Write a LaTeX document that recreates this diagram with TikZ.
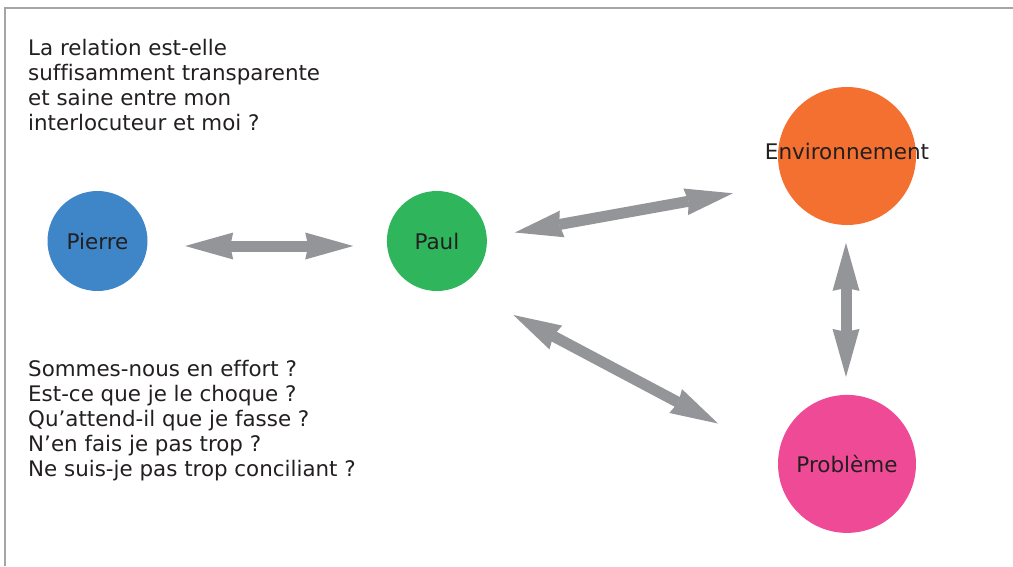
\documentclass[tikz,border=0pt]{standalone}
\usepackage{fontspec}
\setmainfont[Ligatures=NoCommon]{DejaVu Sans}
\usepackage{xcolor}
\usetikzlibrary{arrows.meta, positioning}

\definecolor{pierreblue}{RGB}{63,134,200}
\definecolor{paulgreen}{RGB}{47,182,92}
\definecolor{envorange}{RGB}{243,112,48}
\definecolor{probpink}{RGB}{239,74,150}
\definecolor{arrowgray}{RGB}{147,149,152}
\definecolor{framegray}{RGB}{165,165,165}
\definecolor{textdark}{RGB}{35,31,32}

\begin{document}
\begin{tikzpicture}[
        x=1pt, y=-1pt,
        person/.style={circle, minimum size=100pt, inner sep=0pt, text=textdark, font=\fontsize{21.5}{25}\selectfont},
        topic/.style={circle, minimum size=138pt, inner sep=0pt, text=textdark, font=\fontsize{21.5}{25}\selectfont},
        txt/.style={anchor=north west, align=left, inner sep=0pt, text=textdark, font=\fontsize{21.4}{25}\selectfont},
        link/.style={draw=arrowgray, line width=11pt, {Stealth[length=48pt, width=27pt, inset=3pt, line width=0pt]}-{Stealth[length=48pt, width=27pt, inset=3pt, line width=0pt]}}
    ]
    \useasboundingbox (0,0) rectangle (1013,566);

    % Frame
    \draw[framegray, line width=1.5pt] (1013,8) -- (5,8) -- (5,566);

    % Persons
    \node[person, fill=pierreblue] (pierre) at (97.5,241) {Pierre};
    \node[person, fill=paulgreen, right=239pt of pierre] (paul) {Paul};

    % Topics
    \node[topic, fill=envorange, label={[text=textdark, font=\fontsize{21.5}{25}\selectfont, yshift=5pt]center:Environnement}] (env) at (847,156) {};
    \node[topic, fill=probpink, below=169.5pt of env] (prob) {Problème};

    % Questions
    \node[txt] (relation) at (28,39) {La relation est-elle\\suffisamment transparente\\et saine entre mon\\interlocuteur et moi ?};
    \node[txt] (effort) at (28,360) {Sommes-nous en effort ?\\Est-ce que je le choque ?\\Qu’attend-il que je fasse ?\\N’en fais je pas trop ?\\Ne suis-je pas trop conciliant ?};

    % Connections
    \draw[link, shorten <=37.5pt, shorten >=33.5pt] ([yshift=-5pt]pierre.east) -- ([yshift=-5pt]paul.west);
    \draw[link, shorten <=28.4pt, shorten >=51.7pt] (paul.4) -- (env.204);
    \draw[link, shorten <=61.7pt, shorten >=68.2pt] (paul.296) -- (prob.173);
    \draw[link, shorten <=17.7pt, shorten >=17.8pt] ([xshift=-1pt]env.south) -- ([xshift=-1pt]prob.north);

\end{tikzpicture}
\end{document}
